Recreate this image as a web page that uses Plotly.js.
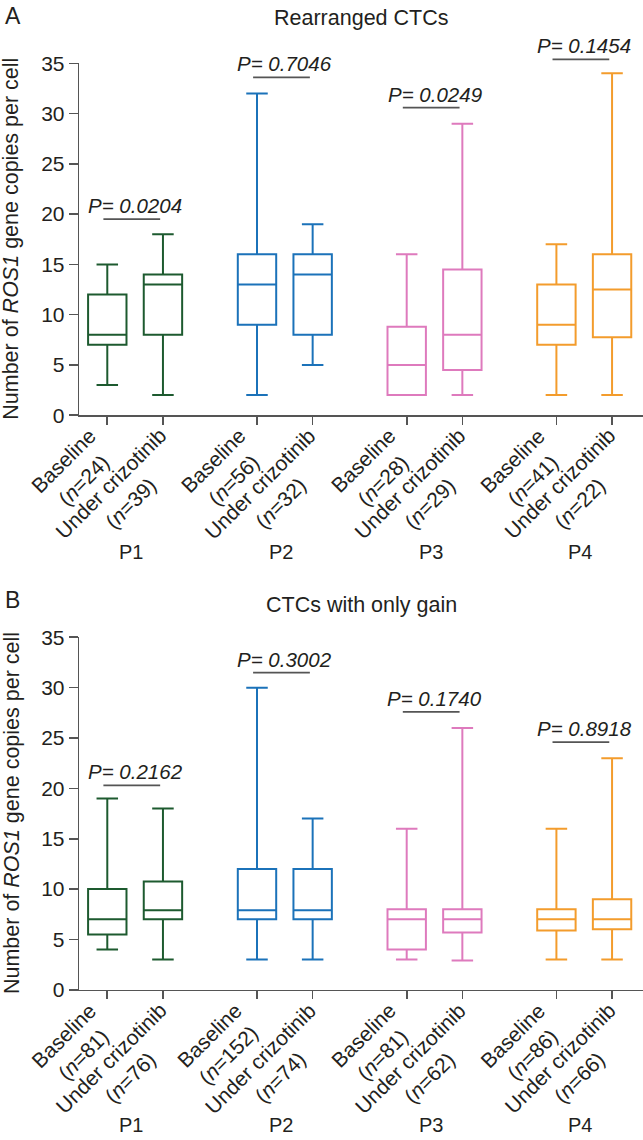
<!DOCTYPE html>
<html><head><meta charset="utf-8">
<script src="https://cdn.plot.ly/plotly-3.0.1.min.js"></script>
<style>html,body{margin:0;padding:0;background:#fff}#chart{width:643px;height:1140px}</style>
</head><body><div id="chart"></div>
<script>
// ---------- data ----------
const patients = ['P1', 'P2', 'P3', 'P4'];
const conditions = ['Baseline', 'Under crizotinib'];
const colors = ['#1d5a2f', '#1b72b9', '#de7abd', '#f39c2c'];

// Panel A: Rearranged CTCs (order: P1 base, P1 under, P2 base, P2 under, ...)
const nA   = [24, 39, 56, 32, 28, 29, 41, 22];
const minA = [3, 2, 2, 5, 2, 2, 2, 2];
const q1A  = [7, 8, 9, 8, 2, 4.5, 7, 7.75];
const medA = [8, 13, 13, 14, 5, 8, 9, 12.5];
const q3A  = [12, 14, 16, 16, 8.8, 14.5, 13, 16];
const maxA = [15, 18, 32, 19, 16, 29, 17, 34];
const pA   = ['0.0204', '0.7046', '0.0249', '0.1454'];

// Panel B: CTCs with only gain
const nB   = [81, 76, 152, 74, 81, 62, 86, 66];
const minB = [4, 3, 3, 3, 3, 2.9, 3, 3];
const q1B  = [5.5, 7, 7, 7, 4, 5.7, 5.9, 6];
const medB = [7, 7.9, 7.9, 7.9, 7, 7, 7, 7];
const q3B  = [10, 10.75, 12, 12, 8, 8, 8, 9];
const maxB = [19, 18, 30, 17, 16, 26, 16, 23];
const pB   = ['0.2162', '0.3002', '0.1740', '0.8918'];

// heights (y units) of the P-value brackets
const bracketA = [19.5, 33.6, 30.6, 35.4];
const bracketB = [20.3, 31.5, 27.6, 24.6];

// ---------- layout geometry ----------
const W = 643, H = 1140;
const pairStep = 2.69;
const pos = (g, c) => g * pairStep + c;
const xRange = [-0.503, 9.626];
const plotLeft = 79.3;
const domX = [plotLeft / W, 1];
const axisYA = 415.2, axisYB = 989.8;
const domA = [1 - axisYA / H, 1 - 63.3 / H];
const domB = [1 - axisYB / H, 1 - 637.3 / H];
const yMax = 35;
const yPaper = (dom, v) => dom[0] + v / yMax * (dom[1] - dom[0]);
const xToPx = v => plotLeft + (v - xRange[0]) / (xRange[1] - xRange[0]) * (W - plotLeft);
const FONT = 'Liberation Sans, Arial, Helvetica, sans-serif';
const TXT = '#231f20';
const AX = '#555';

const tickPos = [];
for (let g = 0; g < 4; g++) for (let c = 0; c < 2; c++) tickPos.push(pos(g, c));

function boxTraces(minv, q1, med, q3, maxv, xa, ya) {
  return patients.map((p, g) => ({
    type: 'box',
    name: p,
    x: [pos(g, 0), pos(g, 1)],
    lowerfence: [minv[2 * g], minv[2 * g + 1]],
    q1: [q1[2 * g], q1[2 * g + 1]],
    median: [med[2 * g], med[2 * g + 1]],
    q3: [q3[2 * g], q3[2 * g + 1]],
    upperfence: [maxv[2 * g], maxv[2 * g + 1]],
    boxpoints: false,
    width: 0.69,
    whiskerwidth: 0.56,
    line: {color: colors[g], width: 2},
    fillcolor: 'rgba(0,0,0,0)',
    xaxis: xa, yaxis: ya,
    showlegend: false,
    hoverinfo: 'skip'
  }));
}

const data = [].concat(
  boxTraces(minA, q1A, medA, q3A, maxA, 'x', 'y'),
  boxTraces(minB, q1B, medB, q3B, maxB, 'x2', 'y2')
);

function xAxis(anchor) {
  return {
    domain: domX, range: xRange, anchor: anchor,
    showline: true, linecolor: AX, linewidth: 1.6,
    ticks: 'outside', ticklen: 8, tickwidth: 1.6, tickcolor: AX,
    tickmode: 'array', tickvals: tickPos, showticklabels: false,
    showgrid: false, zeroline: false, fixedrange: true
  };
}
function yAxis(anchor, dom) {
  return {
    domain: dom, range: [0, yMax], anchor: anchor,
    showline: true, linecolor: AX, linewidth: 1.6,
    ticks: 'outside', ticklen: 9, tickwidth: 1.6, tickcolor: AX,
    tickmode: 'linear', tick0: 0, dtick: 5,
    tickfont: {family: FONT, size: 21, color: TXT},
    showgrid: false, zeroline: false, fixedrange: true
  };
}

const annotations = [];
const shapes = [];
const py = px => 1 - px / H;

// rotated, centre-aligned two-line category labels
const ctx = document.createElement('canvas').getContext('2d');
const TICKSIZE = 21;
ctx.font = TICKSIZE + 'px "Liberation Sans"';
const S2 = Math.SQRT1_2;
function tickLabels(n, axisY) {
  tickPos.forEach((p, i) => {
    const tickX = xToPx(p);
    const plain = [conditions[i % 2], '(n=' + n[i] + ')'];
    const html = [conditions[i % 2], '(<i>n</i>=' + n[i] + ')'];
    const hs = [15, 19], s = 28;
    let maxX = -1e9, minY = 1e9;
    plain.forEach((t, k) => {
      const w = ctx.measureText(t).width;
      const v = k * s;
      maxX = Math.max(maxX, (w / 2 + v + hs[k] / 2) * S2);
      minY = Math.min(minY, (v - hs[k] / 2 - w / 2) * S2);
    });
    const cx = tickX + 4.5 - maxX, cy = axisY + 11.5 - minY;
    html.forEach((t, k) => {
      const off = k * s * S2;
      annotations.push({xref: 'paper', yref: 'paper', x: (cx + off) / W, y: py(cy + off),
        text: t, textangle: -45, showarrow: false, xanchor: 'center', yanchor: 'middle',
        font: {family: FONT, size: TICKSIZE, color: TXT}});
    });
  });
}

function panelDecor(letter, title, titleY, letterY, dom, pvals, brackets, xa, groupY, n, axisY) {
  annotations.push({xref: 'paper', yref: 'paper', x: 12.5 / W, y: py(letterY), text: letter,
    showarrow: false, xanchor: 'center', yanchor: 'middle', font: {family: FONT, size: 23, color: TXT}});
  annotations.push({xref: 'paper', yref: 'paper', x: 361 / W, y: py(titleY), text: title,
    showarrow: false, xanchor: 'center', yanchor: 'middle', font: {family: FONT, size: 21.5, color: TXT}});
  annotations.push({xref: 'paper', yref: 'paper', x: 11.5 / W, y: (dom[0] + dom[1]) / 2,
    text: 'Number of <i>ROS1</i> gene copies per cell', textangle: -90,
    showarrow: false, xanchor: 'center', yanchor: 'middle', font: {family: FONT, size: 21.5, color: TXT}});
  for (let g = 0; g < 4; g++) {
    const yb = yPaper(dom, brackets[g]);
    shapes.push({type: 'line', xref: xa, yref: 'paper',
      x0: pos(g, 0) - 0.07, x1: pos(g, 1) - 0.05, y0: yb, y1: yb,
      line: {color: '#555', width: 1.8}});
    annotations.push({xref: xa, yref: 'paper', x: pos(g, 0.5), y: yb, yshift: 0,
      text: '<i>P= ' + pvals[g] + '</i>', showarrow: false,
      xanchor: 'center', yanchor: 'bottom', font: {family: FONT, size: 20.5, color: TXT}});
    annotations.push({xref: xa, yref: 'paper', x: pos(g, 0.5) - 0.07, y: py(groupY), text: patients[g],
      showarrow: false, xanchor: 'center', yanchor: 'middle', font: {family: FONT, size: 20, color: TXT}});
  }
  tickLabels(n, axisY);
}
panelDecor('A', 'Rearranged CTCs', 18.5, 16, domA, pA, bracketA, 'x', 552, nA, axisYA);
panelDecor('B', 'CTCs with only gain', 605, 600, domB, pB, bracketB, 'x2', 1125, nB, axisYB);

const layout = {
  width: W, height: H,
  margin: {l: 0, r: 0, t: 0, b: 0},
  paper_bgcolor: '#fff', plot_bgcolor: '#fff',
  font: {family: FONT, color: TXT},
  showlegend: false,
  xaxis: xAxis('y'),
  yaxis: yAxis('x', domA),
  xaxis2: xAxis('y2'),
  yaxis2: yAxis('x2', domB),
  annotations: annotations,
  shapes: shapes
};

Plotly.newPlot('chart', data, layout, {displayModeBar: false, staticPlot: true});
</script>
</body></html>
